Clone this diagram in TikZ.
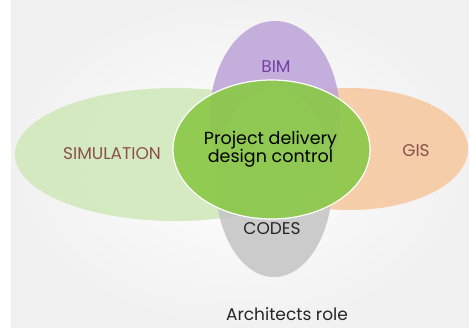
\documentclass[tikz,border=0pt]{standalone}
\usepackage{fontspec}
\setmainfont{Poppins}
\usetikzlibrary{shapes.geometric}
\definecolor{simfill}{HTML}{CFE8B8}
\definecolor{gisfill}{HTML}{F6C79D}
\definecolor{bimfill}{HTML}{BCA2D8}
\definecolor{codesfill}{HTML}{C4C4C4}
\definecolor{hubfill}{HTML}{8CC94A}
\definecolor{bimtext}{HTML}{7440A6}
\definecolor{browntext}{HTML}{8A514C}
\definecolor{darktext}{HTML}{262626}
\definecolor{paper}{HTML}{F1F1F1}
\tikzset{
  petal/.style={ellipse, inner sep=0pt, outer sep=0pt, fill opacity=0.85},
  hub/.style={ellipse, inner sep=0pt, outer sep=0pt, fill=hubfill, fill opacity=0.93,
              draw=white, line width=1.2pt},
  lbl/.style={font=\fontsize{17}{20}\selectfont, inner sep=0pt}
}
\begin{document}
\begin{tikzpicture}[x=1pt, y=-1pt]
  % slide background
  \fill[white] (0,0) rectangle (469,327);
  \shade[inner color=white, outer color=paper] (11,0) rectangle (469,327);
  \useasboundingbox (0,0) rectangle (469,327);

  % outer ellipses
  \node[petal, fill=simfill, minimum width=320pt, minimum height=133pt] (sim) at (175,154.5) {};
  \node[petal, fill=gisfill, minimum width=236pt, minimum height=122pt] (gis) at (350,149) {};
  \node[petal, fill=bimfill, minimum width=130pt, minimum height=190pt] (bim) at (275,116) {};
  \node[petal, fill=codesfill, minimum width=117pt, minimum height=190pt] (codes) at (274,182) {};

  % central ellipse
  \node[hub, minimum width=197pt, minimum height=139pt] (hubshape) at (271.5,149.5) {};

  % labels
  \node[lbl, text=bimtext] (bimlabel) at (276,67) {BIM};
  \node[lbl, text=browntext] (simlabel) at (112,154) {SIMULATION};
  \node[lbl, text=browntext] (gislabel) at (416,151) {GIS};
  \node[lbl, text=darktext] (codeslabel) at (272,229) {CODES};
  \node[font=\fontsize{17.5}{18}\selectfont, align=center, inner sep=0pt, text=black]
    (hublabel) at (270.5,149) {Project delivery\\design control};
  \node[lbl, text=darktext] (role) at (287,314) {Architects role};
\end{tikzpicture}
\end{document}
